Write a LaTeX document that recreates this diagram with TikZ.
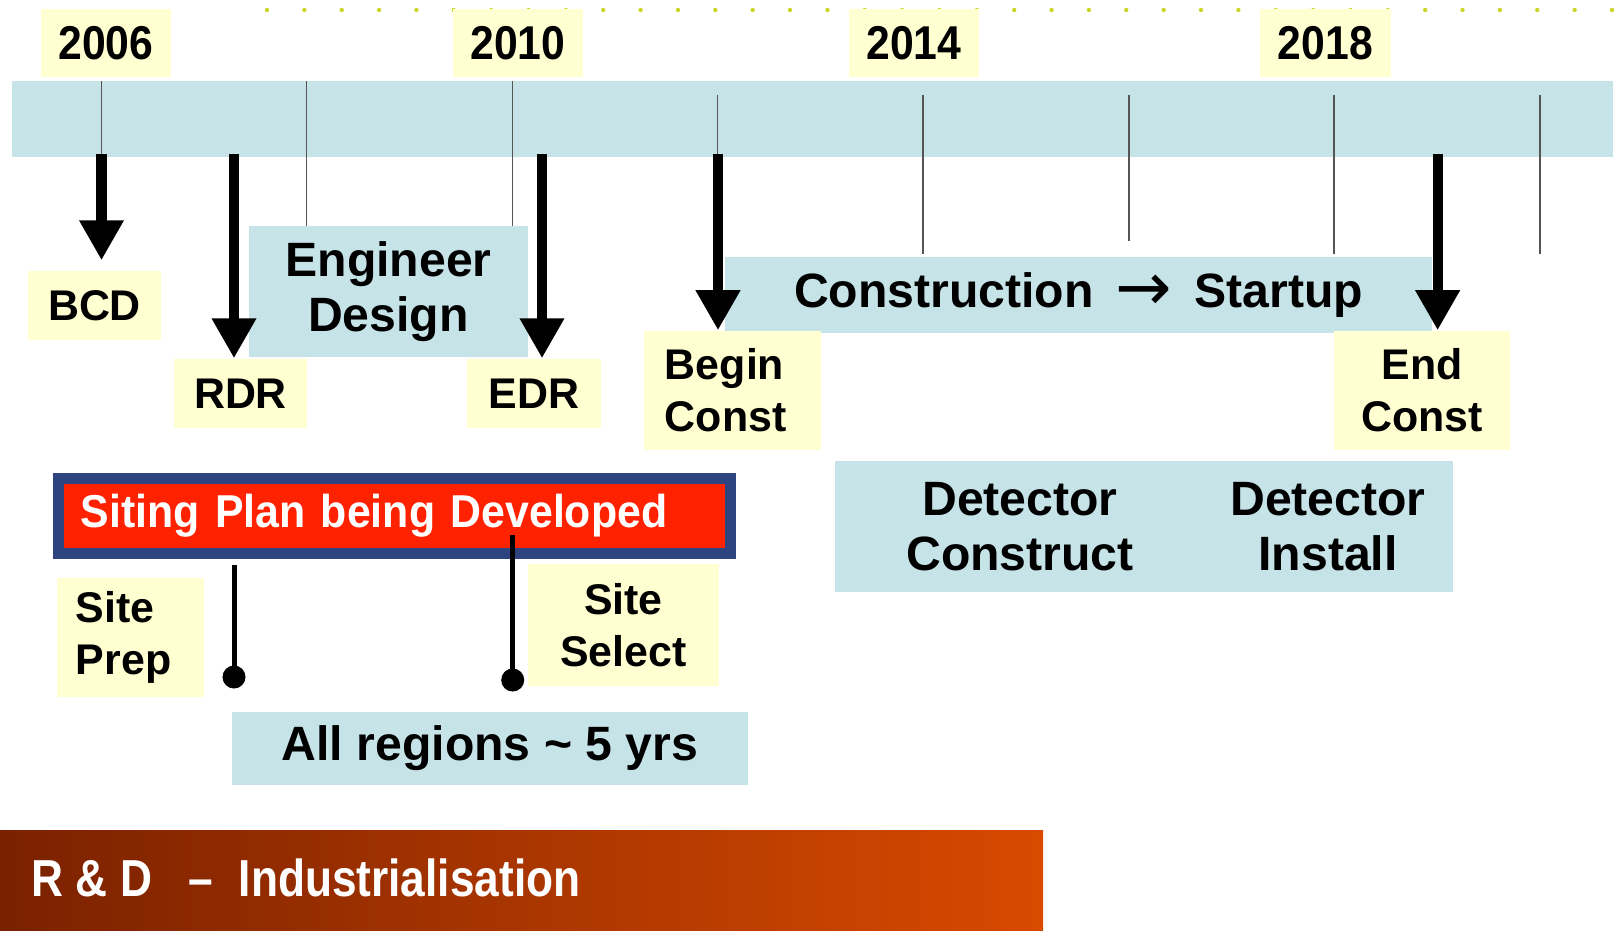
\documentclass[tikz,border=0pt]{standalone}
\usepackage{fontspec}
\setmainfont{Liberation Sans}
\newfontfamily\yearfont[FakeStretch=0.9]{Liberation Sans}
\newfontfamily\sitingfont[FakeStretch=0.93]{Liberation Sans}
\newfontfamily\rdfont[FakeStretch=0.85]{Liberation Sans}
\newfontfamily\arrowfont{DejaVu Sans}
\usetikzlibrary{arrows.meta}

\definecolor{bandblue}{RGB}{198,228,232}
\definecolor{labelyellow}{RGB}{255,255,210}
\definecolor{dotgreen}{RGB}{204,214,40}
\definecolor{navyframe}{RGB}{46,68,128}
\definecolor{sitingred}{RGB}{255,34,0}
\definecolor{rdleft}{RGB}{122,33,0}
\definecolor{rdright}{RGB}{216,74,0}
\definecolor{tickgray}{RGB}{85,85,85}

\tikzset{
	yearbox/.style={fill=labelyellow,inner sep=0pt,minimum width=1.3cm,minimum height=0.68cm,
		font=\yearfont\bfseries\fontsize{13.5}{15}\selectfont},
	labelbox/.style={fill=labelyellow,inner sep=0pt,align=center,
		font=\bfseries\fontsize{12.2}{14.7}\selectfont},
	phasebox/.style={fill=bandblue,inner sep=0pt,align=center,
		font=\bfseries\fontsize{13.7}{15.6}\selectfont},
	sitingbox/.style={draw=navyframe,line width=0.11cm,fill=sitingred,text=white,
		inner ysep=0pt,align=left,font=\sitingfont\bfseries\fontsize{13.1}{15}\selectfont},
	tick/.style={draw=tickgray,line width=0.015cm},
	milestone/.style={line width=0.1cm,-{Triangle[width=0.42cm,length=0.4cm]}},
	pinline/.style={line width=0.05cm},
	rdlabel/.style={text=white,inner sep=0pt,font=\rdfont\bfseries\fontsize{14.8}{17}\selectfont}
}

\begin{document}
\begin{tikzpicture}[x=0.01cm,y=-0.01cm]
	\useasboundingbox (0,0) rectangle (1624,930);
	\foreach \k in {0,...,36}
		\fill[fill=dotgreen] ({267+37.36*\k},10) circle (0.022cm);
	\foreach \yr/\x in {2006/106,2010/518,2014/914,2018/1325.5}
		\node[yearbox] (y\yr) at (\x,43) {\yr};
	\fill[fill=bandblue] (12,81) rectangle (1613,157);
	\foreach \x/\a/\b in {101.5/81/154,306.6/81/230,512.7/81/230,717.7/95/154,
		922.8/95/254,1129/95/241,1334/95/254,1540/95/254}
			\draw[tick] (\x,\a) -- (\x,\b);

	\node[phasebox,minimum width=2.79cm,minimum height=1.31cm] (engdesign) at (388.5,291.5) {Engineer\\Design};
	\node[phasebox,minimum width=7.07cm,minimum height=0.76cm] (constr) at (1078.5,295)
		{Construction\hspace{0.22cm}\raisebox{-0.03cm}{\arrowfont\mdseries\scalebox{1.4}{→}}\hspace{0.22cm}Startup};
	\node[phasebox,minimum width=6.18cm,minimum height=1.31cm] (detector) at (1144,526.5) {};
	\node[phasebox] (detcons) at (1020,526.5) {Detector\\Construct};
	\node[phasebox] (detinst) at (1328,526.5) {Detector\\Install};
	\node[phasebox,minimum width=5.16cm,minimum height=0.73cm] (regions) at (490,748.5) {All regions \textasciitilde{} 5 yrs};

	\node[labelbox,minimum width=1.33cm,minimum height=0.69cm] (bcd) at (94.5,305.5) {BCD};
	\node[labelbox,minimum width=1.33cm,minimum height=0.69cm] (rdr) at (240.5,393.5) {RDR};
	\node[labelbox,minimum width=1.34cm,minimum height=0.69cm] (edr) at (534,393.5) {EDR};
	\node[labelbox,align=left,text width=1.35cm,inner xsep=0.21cm,minimum height=1.19cm] (beginc) at (732.5,390.5) {Begin\\Const};
	\node[labelbox,minimum width=1.76cm,minimum height=1.19cm] (endc) at (1422,390.5) {End\\Const};
	\node[labelbox,align=left,text width=1.09cm,inner xsep=0.19cm,minimum height=1.19cm] (prep) at (130.5,637.5) {Site\\Prep};
	\node[labelbox,minimum width=1.91cm,minimum height=1.22cm] (select) at (623.5,625) {Site\\Select};

	\foreach \m/\x/\s in {bcd/101.5/0.1,rdr/234/0,edr/542/0,beginc/718/0,endc/1437.6/0}
	{
		\coordinate (m\m) at (\x,154);
		\draw[milestone,shorten >=\s cm] (m\m) -- (m\m |- \m.north);
	}

	\node[sitingbox,text width=6.27cm,inner xsep=0.225cm,minimum height=0.75cm] (siting) at (394.5,516)
		{Siting Plan being Developed};
	\coordinate (prep top) at (234,565);
	\coordinate (prep dot) at (234,677);
	\coordinate (select top) at (512.7,535);
	\coordinate (select dot) at (512.7,680);
	\draw[pinline] (prep top) -- (prep dot);
	\draw[pinline] (select top) -- (select dot);
	\fill (prep dot) circle (0.115cm);
	\fill (select dot) circle (0.115cm);

	\shade[left color=rdleft,right color=rdright] (0,830) rectangle (1043,930);
	\node[rdlabel,anchor=west] (rd) at (31,878) {R \& D\hspace{0.36cm}–\hspace{0.26cm}Industrialisation};
\end{tikzpicture}
\end{document}
